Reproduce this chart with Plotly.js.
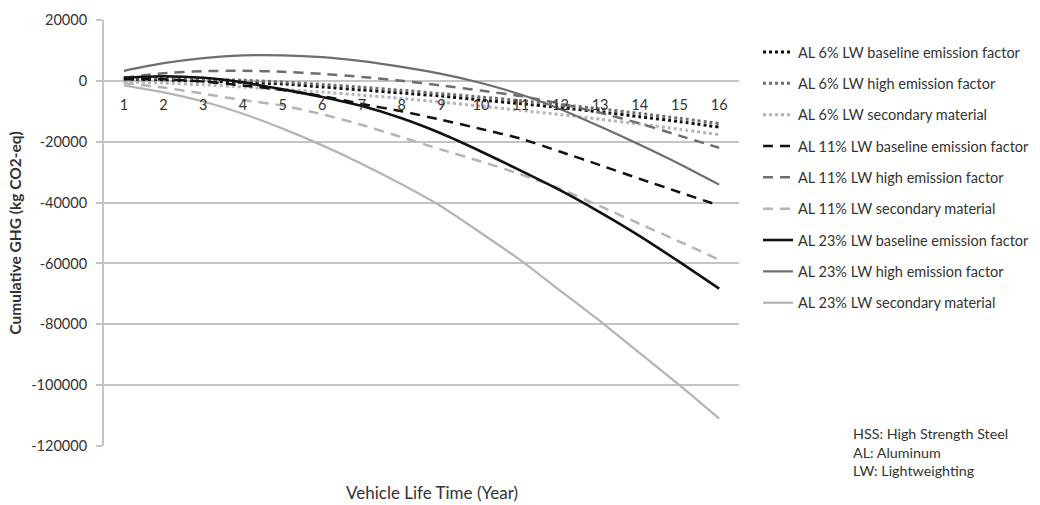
<!DOCTYPE html>
<html>
<head>
<meta charset="utf-8">
<script src="https://cdn.plot.ly/plotly-3.0.1.min.js"></script>
<style>html,body{margin:0;padding:0;background:#fff}#chart{width:1040px;height:505px}</style>
</head>
<body>
<div id="chart"></div>
<script>
const years = [1,2,3,4,5,6,7,8,9,10,11,12,13,14,15,16];
const yearLabels = ["1","2","3","4","5","6","7","8","9","10","11","12","13","14","15","16"];

const al6Baseline  = [500, 300, -100, -500, -1000, -2000, -3000, -4000, -5000, -6300, -7500, -8800, -10200, -11800, -13400, -15200];
const al6High      = [1000, 900, 600, 200, -400, -1200, -2100, -3100, -4200, -5300, -6500, -7800, -9200, -10700, -12300, -14000];
const al6Secondary = [-300, -700, -1300, -2000, -2800, -3700, -4700, -5800, -7000, -8300, -9700, -11100, -12600, -14200, -15900, -17700];

const al11Baseline  = [500, 500, -200, -1500, -3000, -5000, -7600, -10000, -12800, -15800, -19000, -23300, -27700, -32200, -36600, -41000];
const al11High      = [1000, 2500, 3200, 3300, 3000, 2300, 1300, 0, -1500, -3200, -5000, -7500, -10500, -14000, -18000, -22000];
const al11Secondary = [-700, -2200, -4200, -6300, -8100, -11000, -14500, -18500, -22600, -26500, -30700, -35500, -41200, -47000, -52800, -58800];

const al23Baseline  = [1000, 1500, 1000, -500, -2800, -5300, -8300, -12300, -17300, -23200, -29500, -36000, -43200, -51000, -59500, -68300];
const al23High      = [3300, 5800, 7500, 8400, 8400, 7800, 6500, 4600, 2300, -700, -4500, -9300, -15000, -21000, -27300, -34100];
const al23Secondary = [-1500, -3800, -6800, -10800, -15700, -21200, -27300, -34000, -41300, -50000, -59000, -69000, -79000, -89500, -100000, -111000];

const seriesNames = [
  "AL 6% LW baseline emission factor",
  "AL 6% LW high emission factor",
  "AL 6% LW secondary material",
  "AL 11% LW baseline emission factor",
  "AL 11% LW high emission factor",
  "AL 11% LW secondary material",
  "AL 23% LW baseline emission factor",
  "AL 23% LW high emission factor",
  "AL 23% LW secondary material"
];
const seriesValues = [al6Baseline, al6High, al6Secondary, al11Baseline, al11High, al11Secondary, al23Baseline, al23High, al23Secondary];

const yTicks = [20000, 0, -20000, -40000, -60000, -80000, -100000, -120000];
const yTickLabels = ["20000", "0", "-20000", "-40000", "-60000", "-80000", "-100000", "-120000"];

const noteText = "HSS: High Strength Steel<br>AL: Aluminum<br>LW: Lightweighting";

const styles = [
  {color: "#111111", width: 3, dash: "dot"},
  {color: "#6e6e6e", width: 3, dash: "dot"},
  {color: "#b4b4b4", width: 3, dash: "dot"},
  {color: "#111111", width: 2.5, dash: "10px,7px"},
  {color: "#6e6e6e", width: 2.5, dash: "10px,7px"},
  {color: "#b4b4b4", width: 2.5, dash: "10px,7px"},
  {color: "#111111", width: 2.6, dash: "solid"},
  {color: "#6e6e6e", width: 2.2, dash: "solid"},
  {color: "#b4b4b4", width: 2.2, dash: "solid"}
];

const FONT = "Lato, 'Open Sans', sans-serif";
const TXT = "#333333";

const traces = seriesNames.map((n, i) => ({
  type: "scatter",
  mode: "lines",
  name: n,
  x: years,
  y: seriesValues[i],
  line: Object.assign({shape: "spline", smoothing: 0.6}, styles[i]),
  legendgroup: "g" + i
}));

const layout = {
  width: 1040,
  height: 505,
  margin: {l: 104, r: 301, t: 20, b: 59, autoexpand: false},
  paper_bgcolor: "#ffffff",
  plot_bgcolor: "#ffffff",
  font: {family: FONT, size: 14, color: TXT},
  showlegend: true,
  legend: {
    xref: "container", yref: "container",
    x: 758 / 1040, xanchor: "left",
    y: 1 - 36 / 505, yanchor: "top",
    maxheight: 440,
    font: {family: FONT, size: 14.5, color: TXT},
    tracegroupgap: 9.5,
    bgcolor: "rgba(0,0,0,0)"
  },
  xaxis: {
    type: "linear",
    range: [0.5, 16.5],
    tickvals: years,
    ticktext: yearLabels,
    anchor: "free",
    position: 120000 / 140000,
    showgrid: false,
    zeroline: false,
    showline: false,
    ticks: "",
    ticklabelstandoff: 14,
    tickfont: {family: FONT, size: 14.5, color: TXT},
    fixedrange: true
  },
  yaxis: {
    range: [-120000, 20000],
    tickvals: yTicks,
    ticktext: yTickLabels,
    showgrid: true,
    gridcolor: "#c4c4c4",
    gridwidth: 2,
    zeroline: false,
    showline: true,
    linecolor: "#c4c4c4",
    linewidth: 2,
    ticks: "outside",
    ticklen: 6,
    tickwidth: 2,
    tickcolor: "#c4c4c4",
    ticklabelstandoff: 6,
    tickfont: {family: FONT, size: 14.5, color: TXT},
    title: {text: "Cumulative GHG (kg CO2-eq)", font: {family: FONT, size: 15.5, color: TXT, weight: "bold"}, standoff: 6},
    fixedrange: true
  },
  annotations: [
    {
      text: "Vehicle Life Time (Year)",
      xref: "paper", yref: "paper",
      x: (432 - 104) / 635, y: -0.11,
      xanchor: "center", yanchor: "middle",
      showarrow: false,
      font: {family: FONT, size: 17, color: TXT}
    },
    {
      text: noteText,
      xref: "paper", yref: "paper",
      x: (851 - 104) / 635, y: (446 - 452) / 426,
      xanchor: "left", yanchor: "middle",
      align: "left",
      showarrow: false,
      font: {family: FONT, size: 14.3, color: TXT}
    }
  ]
};

Plotly.newPlot("chart", traces, layout, {displayModeBar: false, staticPlot: true});
</script>
</body>
</html>
